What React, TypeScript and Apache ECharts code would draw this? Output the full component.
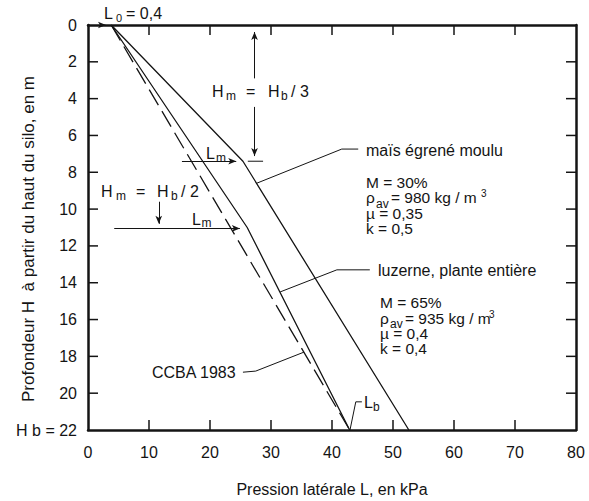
import React, { useEffect, useRef } from "react";
import * as echarts from "echarts";

const FONT = "'Liberation Sans', Arial, Helvetica, sans-serif";
const INK = "#141414";

// axis scales
const xMin = 0;
const xMax = 80;
const xStep = 10;
const yMin = 0;
const yMax = 22;
const yStep = 2;
const xTickValues = [10, 20, 30, 40, 50, 60, 70];
const yTickValues = [2, 4, 6, 8, 10, 12, 14, 16, 18, 20];
const yBottomLabel = "H b = 22";
const xAxisName = "Pression latérale L, en kPa";
const yAxisName = "Profondeur H  à partir du haut du silo, en m";

// curves: [L (kPa), H (m)]
const maisData = [[3.8, 0], [25.4, 7.4], [52.6, 22]];
const luzerneData = [[3.8, 0], [26.1, 11], [42.9, 22]];
const ccbaData = [[3.8, 0], [42.9, 22]];

// annotation arrows (from -> to), arrowhead at "to"
const arrowLines = [
  [[1.5, 0], [2.95, 0]],
  [[27.3, 2.9], [27.3, 0.38]],
  [[27.3, 4.45], [27.3, 7.12]],
  [[15.4, 7.4], [24.3, 7.4]],
  [[11.6, 9.6], [11.6, 10.8]],
  [[4.3, 11.05], [24.9, 11.05]],
];

// annotation leader lines (no arrowheads)
const leaderLines = [
  [[26.2, 7.4], [28.7, 7.4]],
  [[44.3, 6.74], [41.6, 6.74], [27.7, 8.59]],
  [[46.2, 13.3], [40.8, 13.3], [31.5, 14.5]],
  [[25.4, 18.86], [27.5, 18.8], [35.4, 17.77]],
  [[42.95, 22], [43.9, 20.47], [44.9, 20.47]],
];

const GRID = { left: 88, top: 25, right: 13, bottom: 71 };
const W = 589;
const H = 501;
const TICK_PX = 10;

function t(x: number, y: number, text: string, size = 16, extra: any = {}) {
  return {
    type: "text",
    x,
    y,
    silent: true,
    ...extra,
    style: {
      text,
      fontSize: size,
      fontFamily: FONT,
      fill: INK,
      align: "left",
      verticalAlign: "middle",
      ...(extra.style || {}),
    },
  };
}

const texts = [
  // y axis name
  t(28, 239, yAxisName, 17, { rotation: Math.PI / 2, style: { align: "center" } }),
  // L0 = 0,4
  t(104, 13, "L"), t(116, 17.5, "0", 11), t(126, 13, "= 0,4"),
  // Hm = Hb / 3
  t(212, 91, "H"), t(226, 96, "m", 12), t(246, 91, "="), t(268, 91, "H"), t(281, 96, "b", 12), t(291, 91, "/ 3"),
  // Lm (maïs)
  t(206, 153.5, "L"), t(216, 157.5, "m", 12),
  // Hm = Hb / 2
  t(101, 191, "H"), t(116, 195.5, "m", 12), t(136, 191, "="), t(157, 191, "H"), t(171, 195.5, "b", 12), t(181, 191, "/ 2"),
  // Lm (luzerne)
  t(192, 219, "L"), t(201.5, 222.5, "m", 12),
  // maïs block
  t(366, 150, "maïs égrené moulu"),
  t(366, 182, "M = 30%", 15.5),
  t(366, 197, "ρ", 15.5), t(376, 203.7, "av", 12), t(391, 197, "= 980 kg / m", 15.5), t(481, 193.5, "3", 10),
  t(366, 213.5, "µ = 0,35", 15.5),
  t(366, 228, "k = 0,5", 15.5),
  // luzerne block
  t(378, 270, "luzerne, plante entière"),
  t(380, 302, "M = 65%", 15.5),
  t(380, 318.5, "ρ", 15.5), t(390, 323.7, "av", 12), t(405, 318.5, "= 935 kg / m", 15.5), t(489, 314, "3", 10),
  t(380, 333.5, "µ = 0,4", 15.5),
  t(380, 348.5, "k = 0,4", 15.5),
  // CCBA
  t(152, 372, "CCBA 1983"),
  // Lb
  t(364, 402.5, "L"), t(373, 407, "b", 12),
];

export default function App() {
  const ref = useRef<HTMLDivElement>(null);
  useEffect(() => {
    document.body.style.margin = "0";
    const chart = echarts.init(ref.current!, null, { renderer: "svg" });
    const plotW = W - GRID.left - GRID.right;
    const plotH = H - GRID.top - GRID.bottom;
    const dx = (TICK_PX * (xMax - xMin)) / plotW;
    const dy = (TICK_PX * (yMax - yMin)) / plotH;
    const tickSegs: number[][][] = [];
    xTickValues.forEach((v) => {
      tickSegs.push([[v, yMax], [v, yMax - dy]]);
      tickSegs.push([[v, yMin], [v, yMin + dy]]);
    });
    yTickValues.forEach((v) => {
      tickSegs.push([[xMin, v], [xMin + dx, v]]);
      tickSegs.push([[xMax, v], [xMax - dx, v]]);
    });

    const axisLine = { show: true, onZero: false, lineStyle: { color: INK, width: 2.5 } };
    const axisTick = { show: false };
    const curveStyle = { color: INK, width: 1.3 };
    const thin = { color: INK, width: 1 };
    const series: any[] = [
      {
        name: "maïs égrené moulu",
        type: "line",
        data: maisData,
        showSymbol: false,
        symbol: "none",
        silent: true,
        lineStyle: curveStyle,
        markLine: {
          silent: true,
          animation: false,
          symbol: ["none", "arrow"],
          symbolSize: [5, 8],
          label: { show: false },
          lineStyle: { color: INK, width: 1, type: "solid" },
          data: arrowLines.map(([a, b]) => [{ coord: a }, { coord: b }]),
        },
      },
      {
        name: "luzerne, plante entière",
        type: "line",
        data: luzerneData,
        showSymbol: false,
        symbol: "none",
        silent: true,
        lineStyle: curveStyle,
      },
      {
        name: "CCBA 1983",
        type: "line",
        data: ccbaData,
        showSymbol: false,
        symbol: "none",
        silent: true,
        lineStyle: { ...curveStyle, type: [18, 7] },
      },
      ...leaderLines.map((d, i) => ({
        name: "leader" + i,
        type: "line",
        data: d,
        showSymbol: false,
        symbol: "none",
        silent: true,
        lineStyle: thin,
      })),
      ...tickSegs.map((d, i) => ({
        name: "tick" + i,
        type: "line",
        data: d,
        showSymbol: false,
        symbol: "none",
        silent: true,
        clip: false,
        lineStyle: { color: INK, width: 1.5 },
      })),
    ];
    chart.setOption({
      animation: false,
      grid: { ...GRID, containLabel: false, outerBoundsMode: "none" },
      xAxis: [
        {
          type: "value",
          min: xMin,
          max: xMax,
          interval: xStep,
          position: "bottom",
          axisLine: { ...axisLine },
          axisTick: { ...axisTick },
          splitLine: { show: false },
          axisLabel: { fontSize: 16, fontFamily: FONT, color: INK, margin: 14, showMinLabel: true, showMaxLabel: true },
          name: xAxisName,
          nameLocation: "middle",
          nameGap: 51,
          nameTextStyle: { fontSize: 16, fontFamily: FONT, color: INK },
        },
        {
          type: "value",
          min: xMin,
          max: xMax,
          interval: xStep,
          position: "top",
          axisLine: { ...axisLine },
          axisTick: { ...axisTick },
          splitLine: { show: false },
          axisLabel: { show: false },
        },
      ],
      yAxis: [
        {
          type: "value",
          min: yMin,
          max: yMax,
          interval: yStep,
          inverse: true,
          position: "left",
          axisLine: { ...axisLine },
          axisTick: { ...axisTick },
          splitLine: { show: false },
          axisLabel: {
            fontSize: 16,
            fontFamily: FONT,
            color: INK,
            margin: 11,
            showMinLabel: true,
            showMaxLabel: true,
            formatter: (v: number) => (v === yMax ? yBottomLabel : String(v)),
          },
        },
        {
          type: "value",
          min: yMin,
          max: yMax,
          interval: yStep,
          inverse: true,
          position: "right",
          axisLine: { ...axisLine },
          axisTick: { ...axisTick },
          splitLine: { show: false },
          axisLabel: { show: false },
        },
      ],
      series,
      graphic: texts,
    });
    return () => chart.dispose();
  }, []);
  return <div ref={ref} style={{ width: 589, height: 501, background: "#fff" }} />;
}
